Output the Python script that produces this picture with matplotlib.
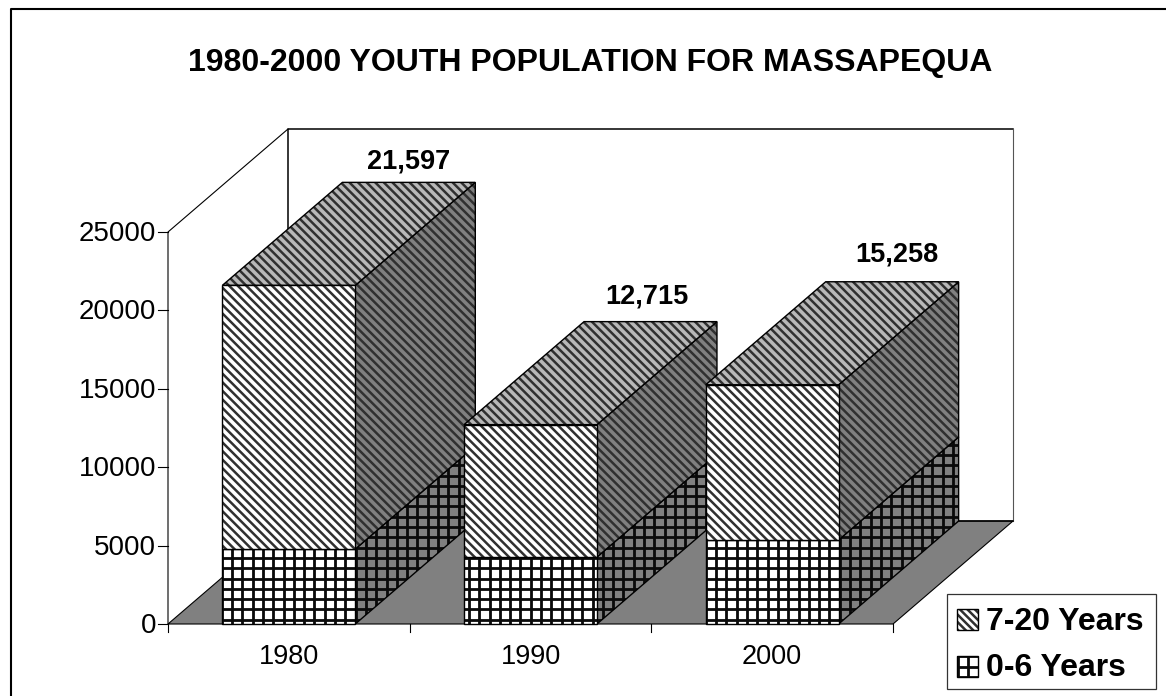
import numpy as np
import matplotlib
matplotlib.use("Agg")
import matplotlib.pyplot as plt
from matplotlib.collections import LineCollection
from matplotlib.patches import Polygon, Rectangle
from matplotlib.transforms import IdentityTransform

plt.rcParams['font.family'] = ['Liberation Sans', 'DejaVu Sans']

YEARS = ["1980", "1990", "2000"]
YOUNG = [4780, 4270, 5360]        # 0-6 Years
TOTALS = [21597, 12715, 15258]
TOTAL_LABELS = ["21,597", "12,715", "15,258"]
YTICKS = [0, 5000, 10000, 15000, 20000, 25000]
TITLE = "1980-2000 YOUTH POPULATION FOR MASSAPEQUA"
LEGEND_LABELS = ["7-20 Years", "0-6 Years"]

W, H, DPI = 1166, 696, 100
PX_X = 241.67             # pixels per category
PX_Y = 0.01568            # pixels per person
ORIGIN = (168, 624)
DEPTH_X = 120 / PX_X      # chart depth in data units
DEPTH_Y = 103 / PX_Y
BAR_W = 0.55

# label nudges in pixels, from the back corner of each bar's centre line
LABEL_DX = [119.5, 116, 124.5]
LABEL_DY = [21, 25, 27]


def fx(p):
    return (p - ORIGIN[0]) / PX_X


def fy(p):
    return (ORIGIN[1] - p) / PX_Y


def hatch_face(ax, pts, face, kind, step=None, phase=None):
    poly = Polygon(pts, closed=True, facecolor=face, edgecolor='none', zorder=ax.z)
    ax.add_patch(poly)
    segs = []
    if kind == "stripe":
        step = step or 8.6
        for c in np.arange(-2 * W, 2 * W, step):
            segs.append([(c, H + 5), (c + H + 10, -5)])
        lw = 2.5
        col = '#303030'
    else:
        step = step or 10.3
        px, py = phase or (170.2 % step, 4.2)
        for c in np.arange(px, W + 1, step):
            segs.append([(c, 0), (c, H)])
        for c in np.arange(py, H, step):
            segs.append([(0, c), (W, c)])
        lw = 2.8
        col = '#0a0a0a'
    lines = LineCollection(segs, colors=col, linewidths=lw * 72 / DPI,
                           transform=IdentityTransform(), zorder=ax.z + 0.1)
    ax.add_collection(lines, autolim=False)
    lines.set_clip_path(poly)
    outline = Polygon(pts, closed=True, facecolor='none', edgecolor='black',
                      linewidth=1.0, zorder=ax.z + 0.2)
    ax.add_patch(outline)
    ax.z += 1


def block(ax, x0, x1, v0, v1, kind, top=False):
    hatch_face(ax, [(x1, v0), (x1 + DEPTH_X, v0 + DEPTH_Y),
                    (x1 + DEPTH_X, v1 + DEPTH_Y), (x1, v1)], '#808080', kind)
    if top:
        hatch_face(ax, [(x0, v1), (x1, v1), (x1 + DEPTH_X, v1 + DEPTH_Y),
                        (x0 + DEPTH_X, v1 + DEPTH_Y)], '#b8b8b8', kind)
    hatch_face(ax, [(x0, v0), (x1, v0), (x1, v1), (x0, v1)], 'white', kind)


def main():
    fig = plt.figure(figsize=(W / DPI, H / DPI), dpi=DPI)
    ax = fig.add_axes([0, 0, 1, 1])
    ax.z = 3
    ax.set_xlim(-ORIGIN[0] / PX_X, (W - ORIGIN[0]) / PX_X)
    ax.set_ylim((ORIGIN[1] - H) / PX_Y, ORIGIN[1] / PX_Y)
    ax.axis('off')

    # outer chart frame runs off the right and bottom edges
    ax.plot([fx(10.5), fx(10.5), fx(W + 5)], [fy(H + 5), fy(9.5), fy(9.5)],
            color='black', lw=1.5, zorder=1)

    ax.text(fx(590), fy(63), TITLE, ha='center', va='center', fontsize=23,
            fontweight='bold')

    top_val = YTICKS[-1]
    n = len(YEARS)

    # floor and walls
    ax.add_patch(Polygon([(0, 0), (n, 0), (n + DEPTH_X, DEPTH_Y), (DEPTH_X, DEPTH_Y)],
                         closed=True, facecolor='#808080', edgecolor='black',
                         linewidth=0.8, zorder=2))
    ax.plot([0, 0, DEPTH_X], [0, top_val, top_val + DEPTH_Y],
            color='black', lw=0.8, zorder=2)
    ax.plot([DEPTH_X, DEPTH_X, n + DEPTH_X],
            [DEPTH_Y, top_val + DEPTH_Y, top_val + DEPTH_Y],
            color='black', lw=1.1, zorder=2)
    ax.plot([n + DEPTH_X, n + DEPTH_X], [top_val + DEPTH_Y, DEPTH_Y],
            color='#555555', lw=0.8, zorder=2)
    ax.plot([DEPTH_X, n + DEPTH_X], [DEPTH_Y, DEPTH_Y], color='black', lw=1.1, zorder=2)

    # ticks and tick labels
    for v in YTICKS:
        ax.plot([-9.5 / PX_X, 0], [v, v], color='black', lw=0.8, zorder=2)
        ax.text(-12 / PX_X, v - 2 / PX_Y, str(v), ha='right', va='center', fontsize=20)
    for i in range(n + 1):
        ax.plot([i, i], [0, -8 / PX_Y], color='black', lw=0.8, zorder=2)
    for i, year in enumerate(YEARS):
        ax.text(i + 0.5, fy(656.5), year, ha='center', va='center', fontsize=19.5)

    # stacked bars, drawn from the left so later fronts hide earlier sides
    for i in range(n):
        x0 = i + 0.5 - BAR_W / 2
        x1 = i + 0.5 + BAR_W / 2
        block(ax, x0, x1, 0, YOUNG[i], "grid")
        block(ax, x0, x1, YOUNG[i], TOTALS[i], "stripe", top=True)
        ax.text(i + 0.5 + LABEL_DX[i] / PX_X,
                TOTALS[i] + DEPTH_Y + LABEL_DY[i] / PX_Y, TOTAL_LABELS[i],
                ha='center', va='center', fontsize=19.5, fontweight='bold',
                zorder=ax.z + 1)

    # legend box
    ax.add_patch(Rectangle((fx(947.5), fy(688.5)), 209 / PX_X, 95 / PX_Y,
                           facecolor='white', edgecolor='#333333', lw=0.9,
                           zorder=ax.z))
    ax.z += 1
    for label, cy, text_y, kind in zip(LEGEND_LABELS, [619, 666.5], [622, 667.5],
                                       ["stripe", "grid"]):
        ax.text(fx(986.5), fy(text_y), label, ha='left', va='center', fontsize=23,
                fontweight='bold', zorder=ax.z + 5)
        l, r, t, b = fx(957.5), fx(978.5), fy(cy - 10.5), fy(cy + 10.5)
        if kind == "grid":
            hatch_face(ax, [(l, b), (r, b), (r, t), (l, t)], 'white', kind,
                       step=10.5, phase=(957.5, H - cy - 10.5))
        else:
            hatch_face(ax, [(l, b), (r, b), (r, t), (l, t)], 'white', kind, step=7.5)

    fig.savefig("out.png", dpi=DPI)


if __name__ == "__main__":
    main()
